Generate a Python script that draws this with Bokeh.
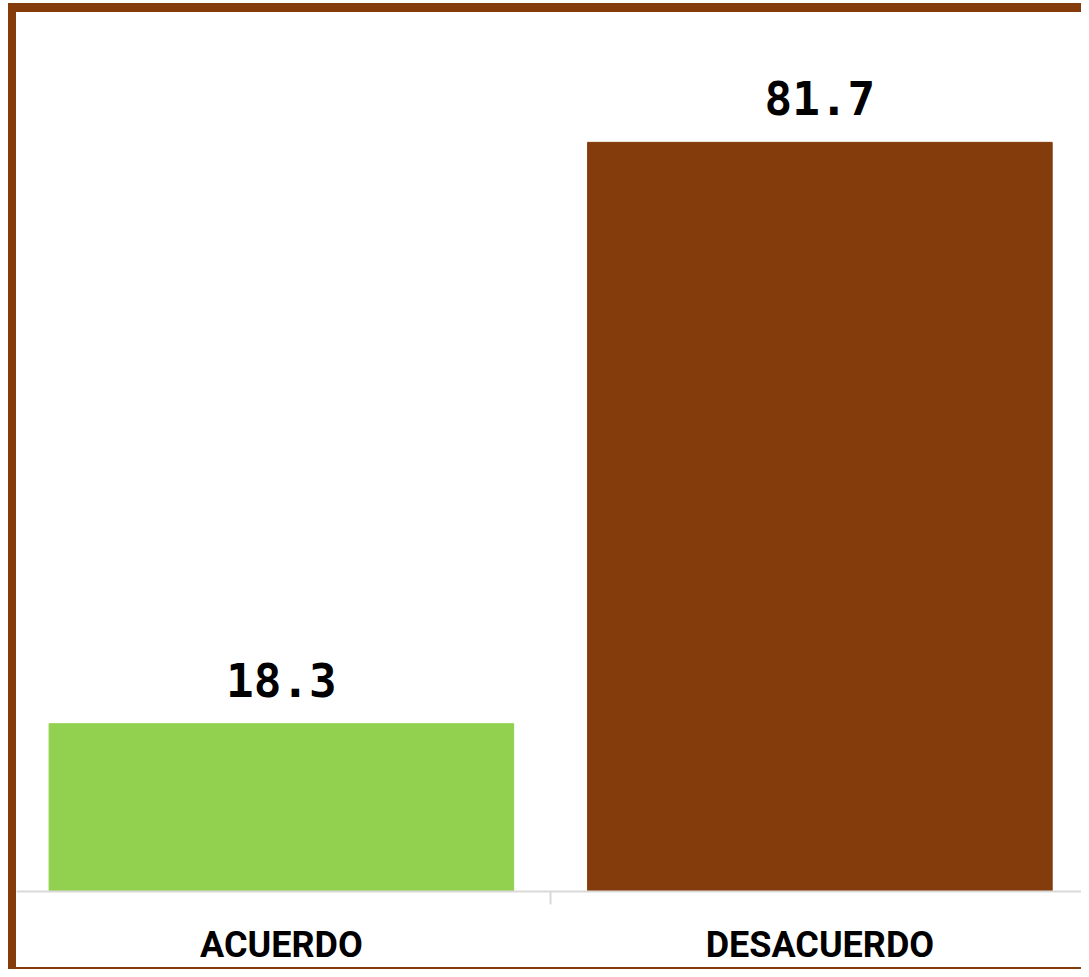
from bokeh.plotting import figure
from bokeh.models import Range1d, FixedTicker, ColumnDataSource
from bokeh.core.properties import value
from bokeh.embed import file_html
from bokeh.resources import INLINE

categories = ["ACUERDO", "DESACUERDO"]
values = [18.3, 81.7]
colors = ["#92D050", "#843C0C"]

xs = list(range(len(categories)))
labels = [f"{v:.1f}" for v in values]

src = ColumnDataSource(dict(x=xs, top=values, color=colors, label=labels))

BROWN = "#843C0C"

p = figure(width=1081, height=969, output_backend="svg", toolbar_location=None,
           x_range=Range1d(-0.4919, 1.4858), y_range=Range1d(0, 97.17),
           min_border_left=16, min_border_right=0, min_border_top=0, min_border_bottom=78)

# chart-area border (left, top, bottom edges visible) drawn on the host element
p.styles = {
    "background-color": "white",
    "box-shadow": ("inset 8px 0 0 0 white, inset 0 3px 0 0 white, "
                   f"inset 16px 0 0 0 {BROWN}, inset 0 12px 0 0 {BROWN}, "
                   f"inset 0 -2px 0 0 {BROWN}"),
}

p.vbar(x="x", top="top", bottom=0, width=0.8627, color="color", source=src)
p.text(x="x", y="top", text="label", source=src, text_align="center",
       text_baseline="alphabetic", y_offset=-44,
       text_font=value("DejaVu Sans Mono"), text_font_style="bold",
       text_font_size="46px", text_color="black")

p.yaxis.visible = False
p.grid.visible = False
p.outline_line_color = None
p.background_fill_color = None
p.border_fill_color = None

ax = p.xaxis[0]
ax.ticker = FixedTicker(ticks=xs, minor_ticks=[0.5])
ax.major_label_overrides = {i: c for i, c in zip(xs, categories)}
ax.major_tick_line_color = None
ax.major_tick_in = 0
ax.major_tick_out = 0
ax.minor_tick_in = 0
ax.minor_tick_out = 13
ax.minor_tick_line_color = "#D9D9D9"
ax.minor_tick_line_width = 2
ax.axis_line_color = "#D9D9D9"
ax.axis_line_width = 2
ax.major_label_standoff = 19
ax.major_label_text_font = "Roboto"
ax.major_label_text_font_style = "bold"
ax.major_label_text_font_size = "36px"
ax.major_label_text_color = "black"

open("out.html", "w").write(file_html(p, INLINE))
